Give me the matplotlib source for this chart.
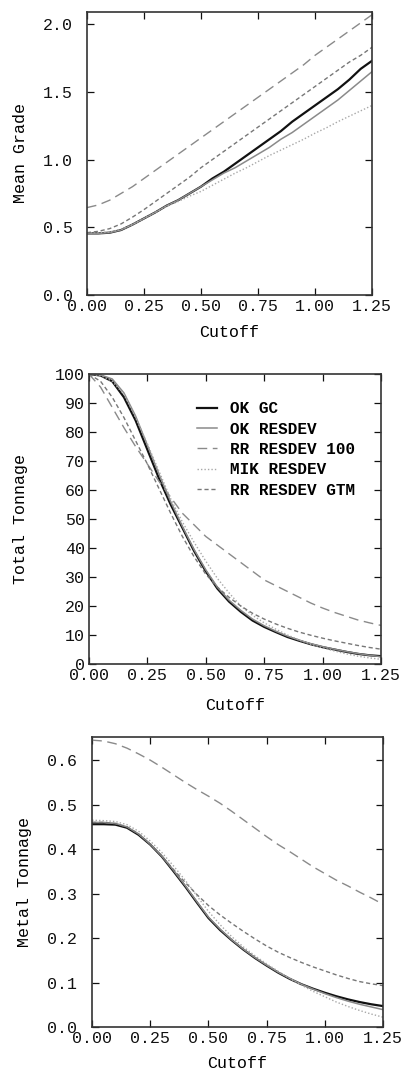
"""
Grade-tonnage curves: mean grade, total tonnage and metal tonnage vs cutoff
"""

import matplotlib
matplotlib.use("Agg")
import matplotlib.pyplot as plt

plt.rcParams["font.family"] = ["Liberation Mono", "DejaVu Sans Mono"]

cutoff = [0.00, 0.05, 0.10, 0.15, 0.20, 0.25, 0.30, 0.35, 0.40, 0.45, 0.50, 0.55, 0.60,
          0.65, 0.70, 0.75, 0.80, 0.85, 0.90, 0.95, 1.00, 1.05, 1.10, 1.15, 1.20, 1.25]

series_names = ["OK GC", "OK RESDEV", "RR RESDEV 100", "MIK RESDEV", "RR RESDEV GTM"]

# Mean grade
grade_ok_gc = [0.455, 0.455, 0.46, 0.48, 0.52, 0.565, 0.61, 0.66, 0.70, 0.75, 0.80, 0.86, 0.91,
               0.97, 1.03, 1.09, 1.15, 1.21, 1.28, 1.34, 1.40, 1.46, 1.52, 1.59, 1.67, 1.73]
grade_ok_resdev = [0.455, 0.455, 0.46, 0.48, 0.52, 0.565, 0.61, 0.66, 0.70, 0.75, 0.80, 0.85, 0.90,
                   0.94, 0.99, 1.04, 1.09, 1.15, 1.20, 1.26, 1.32, 1.38, 1.44, 1.51, 1.58, 1.65]
grade_rr_100 = [0.645, 0.665, 0.70, 0.75, 0.80, 0.86, 0.92, 0.98, 1.04, 1.10, 1.16, 1.22, 1.28,
                1.34, 1.40, 1.46, 1.52, 1.58, 1.64, 1.70, 1.77, 1.83, 1.89, 1.95, 2.01, 2.07]
grade_mik = [0.46, 0.46, 0.465, 0.485, 0.52, 0.565, 0.61, 0.655, 0.69, 0.73, 0.765, 0.81, 0.855,
             0.90, 0.94, 0.985, 1.03, 1.07, 1.11, 1.15, 1.195, 1.235, 1.28, 1.32, 1.36, 1.40]
grade_rr_gtm = [0.46, 0.47, 0.49, 0.525, 0.575, 0.63, 0.69, 0.75, 0.81, 0.87, 0.94, 1.00, 1.06,
                1.12, 1.18, 1.24, 1.30, 1.36, 1.42, 1.48, 1.54, 1.60, 1.66, 1.72, 1.77, 1.83]

# Total tonnage (%)
tons_ok_gc = [100, 99.5, 97.5, 92, 84, 74, 64, 55, 47, 39, 32, 26, 21.5,
              18, 15, 12.8, 11, 9.3, 8, 6.8, 5.8, 5, 4.2, 3.5, 3.0, 2.7]
tons_ok_resdev = [100, 99.7, 98.3, 93.5, 85.5, 75.5, 65.5, 56, 47.5, 39.5, 32.5, 26.5, 22,
                  18.5, 15.5, 13.2, 11.3, 9.6, 8.2, 7.0, 6.0, 5.1, 4.3, 3.6, 3.0, 2.5]
tons_rr_100 = [100, 95.5, 88.5, 81.5, 75, 69, 63, 57.5, 52, 48, 44, 41, 38,
               35, 32, 29, 27, 25, 23, 21, 19.3, 17.8, 16.5, 15.2, 14.2, 13.3]
tons_mik = [100, 99.5, 97.5, 93, 85, 76, 66.5, 57, 49, 42, 35.5, 29.5, 24.5,
            20, 16.8, 14.2, 12, 10, 8.3, 6.8, 5.6, 4.5, 3.5, 2.7, 2.1, 1.6]
tons_rr_gtm = [100, 97.5, 92, 85, 77, 69, 60.5, 52, 44, 37, 31, 26.5, 23,
               20, 17.5, 15.5, 13.8, 12.3, 11, 9.9, 8.9, 8, 7.2, 6.4, 5.7, 5.1]

# Metal tonnage
metal_ok_gc = [0.456, 0.456, 0.455, 0.448, 0.432, 0.41, 0.383, 0.35, 0.316, 0.28, 0.245, 0.218, 0.195,
               0.174, 0.155, 0.138, 0.122, 0.108, 0.096, 0.086, 0.077, 0.069, 0.062, 0.056, 0.051, 0.047]
metal_ok_resdev = [0.46, 0.46, 0.458, 0.45, 0.434, 0.411, 0.384, 0.352, 0.318, 0.282, 0.247, 0.22, 0.196,
                   0.175, 0.156, 0.139, 0.123, 0.109, 0.096, 0.085, 0.075, 0.066, 0.058, 0.051, 0.045, 0.039]
metal_rr_100 = [0.645, 0.643, 0.637, 0.627, 0.614, 0.60, 0.584, 0.567, 0.55, 0.534, 0.519, 0.503, 0.485,
                0.466, 0.447, 0.428, 0.41, 0.394, 0.377, 0.36, 0.345, 0.33, 0.317, 0.303, 0.29, 0.276]
metal_mik = [0.465, 0.464, 0.462, 0.455, 0.44, 0.418, 0.392, 0.362, 0.33, 0.295, 0.26, 0.23, 0.203,
             0.18, 0.16, 0.142, 0.125, 0.109, 0.094, 0.08, 0.068, 0.056, 0.046, 0.037, 0.029, 0.022]
metal_rr_gtm = [0.46, 0.46, 0.457, 0.45, 0.434, 0.411, 0.384, 0.354, 0.325, 0.298, 0.273, 0.252, 0.233,
                0.215, 0.198, 0.182, 0.168, 0.156, 0.145, 0.135, 0.126, 0.117, 0.109, 0.102, 0.097, 0.093]

x_ticks = [0.0, 0.25, 0.50, 0.75, 1.00, 1.25]
x_ticklabels = ["0.00", "0.25", "0.50", "0.75", "1.00", "1.25"]

# line styles: color, width, dash
styles = [
    dict(color="#111111", linewidth=1.6, linestyle="-"),
    dict(color="#8a8a8a", linewidth=1.1, linestyle="-"),
    dict(color="#8a8a8a", linewidth=1.0, linestyle=(0, (7, 4))),
    dict(color="#a8a8a8", linewidth=1.0, linestyle=(0, (1, 1.5))),
    dict(color="#777777", linewidth=1.0, linestyle=(0, (3, 2))),
]

panels = [
    dict(rect=[0.215, 0.7251, 0.706, 0.2637], ylabel="Mean Grade", ylim=(0, 2.09),
         yticks=[0.0, 0.5, 1.0, 1.5, 2.0], yfmt="{:.1f}", ypad=10, xlabpad=8,
         data=[grade_ok_gc, grade_ok_resdev, grade_rr_100, grade_mik, grade_rr_gtm]),
    dict(rect=[0.220, 0.3812, 0.723, 0.2702], ylabel="Total Tonnage", ylim=(0, 100),
         yticks=list(range(0, 101, 10)), yfmt="{:.0f}", ypad=3, xlabpad=11,
         data=[tons_ok_gc, tons_ok_resdev, tons_rr_100, tons_mik, tons_rr_gtm]),
    dict(rect=[0.228, 0.0429, 0.720, 0.2702], ylabel="Metal Tonnage", ylim=(0, 0.652),
         yticks=[0.0, 0.1, 0.2, 0.3, 0.4, 0.5, 0.6], yfmt="{:.1f}", ypad=11, xlabpad=7,
         data=[metal_ok_gc, metal_ok_resdev, metal_rr_100, metal_mik, metal_rr_gtm]),
]

fig = plt.figure(figsize=(4.04, 10.73), dpi=100)

for i, p in enumerate(panels):
    ax = fig.add_axes(p["rect"])
    for name, vals, st in zip(series_names, p["data"], styles):
        ax.plot(cutoff, vals, label=name, **st)
    ax.set_xlim(0, 1.25)
    ax.set_ylim(*p["ylim"])
    ax.set_xticks(x_ticks)
    ax.set_xticklabels(x_ticklabels)
    ax.set_yticks(p["yticks"])
    ax.set_yticklabels([p["yfmt"].format(v) for v in p["yticks"]])
    ax.tick_params(direction="in", length=5, width=0.9, top=True, right=True,
                   labelsize=12, colors="#111111")
    ax.tick_params(axis="x", pad=3)
    ax.tick_params(axis="y", pad=p["ypad"])
    for s in ax.spines.values():
        s.set_linewidth(1.2)
        s.set_color("#333333")
    ax.set_xlabel("Cutoff", fontsize=12, labelpad=p["xlabpad"])
    ax.set_ylabel(p["ylabel"], fontsize=12)
    # right edge of the rotated label sits ~60 px left of the axis
    ax.yaxis.set_label_coords(-0.207, 0.5)
    if i == 1:
        ax.legend(loc="upper left", bbox_to_anchor=(0.32, 0.955), frameon=False,
                  prop=dict(family="Liberation Mono", weight="bold", size=11.5),
                  handlelength=1.3, handletextpad=0.8, labelspacing=0.33)

plt.savefig("out.png", dpi=100)
